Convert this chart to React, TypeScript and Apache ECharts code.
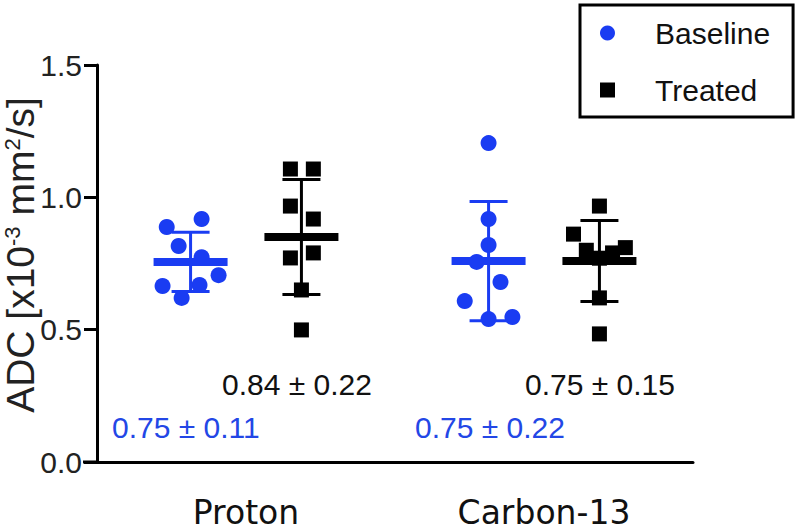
import React, { useEffect, useRef } from "react";
import * as echarts from "echarts";

const categories = ["Proton", "Carbon-13"];
const seriesNames = ["Baseline", "Treated"];
const yTicks = [0, 0.5, 1.0, 1.5];

// individual ADC values (x10^-3 mm^2/s)
const protonBaseline = [0.888, 0.918, 0.816, 0.774, 0.706, 0.665, 0.669, 0.62];
const protonTreated = [1.107, 1.107, 0.967, 0.918, 0.771, 0.79, 0.65, 0.499];
const carbonBaseline = [1.205, 0.918, 0.82, 0.756, 0.68, 0.608, 0.54, 0.548];
const carbonTreated = [0.967, 0.861, 0.8, 0.77, 0.79, 0.81, 0.62, 0.484];

// horizontal scatter of the points inside each group (category units)
const protonBaselineJitter = [-0.08, 0.037, -0.04, 0.037, 0.094, -0.094, 0.03, -0.03];
const protonTreatedJitter = [-0.037, 0.04, -0.037, 0.04, -0.037, 0.04, 0, 0];
const carbonBaselineJitter = [0, 0, 0, -0.04, 0.04, -0.08, 0, 0.08];
const carbonTreatedJitter = [0, -0.087, -0.044, 0, 0.044, 0.087, 0, 0];

// mean and SD drawn as bars
const baselineMean = [0.756, 0.759];
const baselineSD = [0.112, 0.225];
const treatedMean = [0.85, 0.759];
const treatedSD = [0.217, 0.153];

// printed summary labels
const baselineLabels = ["0.75 ± 0.11", "0.75 ± 0.22"];
const treatedLabels = ["0.84 ± 0.22", "0.75 ± 0.15"];

const BLUE = "#1a3cf2";
const BLUE_TEXT = "#2347e6";
const BLACK = "#000000";
const GROUP_OFFSET = 0.186;

function buildPoints(catIdx: number, offset: number, values: number[], jitter: number[]) {
  return values.map((v, i) => [catIdx + 0.5 + offset + jitter[i], v]);
}

function errorBarRenderer(color: string) {
  return (params: any, api: any) => {
    const x = api.value(0);
    const m = api.value(1);
    const s = api.value(2);
    const pm = api.coord([x, m]);
    const pt = api.coord([x, m + s]);
    const pb = api.coord([x, m - s]);
    const capHalf = 19;
    const barHalf = 37;
    return {
      type: "group",
      children: [
        { type: "line", shape: { x1: pm[0], y1: pt[1], x2: pm[0], y2: pb[1] }, style: { stroke: color, lineWidth: 3 } },
        { type: "line", shape: { x1: pm[0] - capHalf, y1: pt[1], x2: pm[0] + capHalf, y2: pt[1] }, style: { stroke: color, lineWidth: 3 } },
        { type: "line", shape: { x1: pm[0] - capHalf, y1: pb[1], x2: pm[0] + capHalf, y2: pb[1] }, style: { stroke: color, lineWidth: 3 } },
        { type: "line", shape: { x1: pm[0] - barHalf, y1: pm[1], x2: pm[0] + barHalf, y2: pm[1] }, style: { stroke: color, lineWidth: 8 } },
      ],
    };
  };
}

export default function App() {
  const ref = useRef<HTMLDivElement>(null);

  useEffect(() => {
    if (!ref.current) return;
    const chart = echarts.init(ref.current, undefined, { renderer: "svg" });

    const baselinePts = [
      ...buildPoints(0, -GROUP_OFFSET, protonBaseline, protonBaselineJitter),
      ...buildPoints(1, -GROUP_OFFSET, carbonBaseline, carbonBaselineJitter),
    ];
    const treatedPts = [
      ...buildPoints(0, GROUP_OFFSET, protonTreated, protonTreatedJitter),
      ...buildPoints(1, GROUP_OFFSET, carbonTreated, carbonTreatedJitter),
    ];
    const baselineBars = baselineMean.map((m, i) => [i + 0.5 - GROUP_OFFSET, m, baselineSD[i]]);
    const treatedBars = treatedMean.map((m, i) => [i + 0.5 + GROUP_OFFSET, m, treatedSD[i]]);

    const labelFont = '30px "Liberation Sans", Arial, sans-serif';
    const statTexts: any[] = [];
    const baseLeft = [112, 415];
    const treatLeft = [222, 525];
    baselineLabels.forEach((t, i) =>
      statTexts.push({
        type: "text",
        x: baseLeft[i],
        y: 427,
        style: { text: t, fill: BLUE_TEXT, font: labelFont, align: "left", verticalAlign: "middle" },
      })
    );
    treatedLabels.forEach((t, i) =>
      statTexts.push({
        type: "text",
        x: treatLeft[i],
        y: 384,
        style: { text: t, fill: "#111", font: labelFont, align: "left", verticalAlign: "middle" },
      })
    );

    chart.setOption({
      animation: false,
      backgroundColor: "#ffffff",
      grid: { left: 97, top: 65, right: 107, bottom: 70, containLabel: false, outerBoundsMode: "none" },
      legend: {
        orient: "vertical",
        left: 580,
        top: 5,
        padding: [11, 23, 10, 20],
        itemWidth: 15,
        itemHeight: 15,
        itemGap: 23,
        borderColor: "#000",
        borderWidth: 3,
        data: seriesNames,
        textStyle: {
          fontSize: 30,
          fontFamily: '"Liberation Sans", Arial, sans-serif',
          color: "#111",
          lineHeight: 34,
          padding: [0, 0, 0, 35],
        },
      },
      xAxis: [
        {
          type: "category",
          data: categories,
          boundaryGap: true,
          axisLine: { lineStyle: { color: "#000", width: 3 } },
          axisTick: { alignWithLabel: true, length: 13, lineStyle: { color: "#000", width: 3 } },
          axisLabel: {
            fontSize: 33,
            fontFamily: '"DejaVu Sans", Verdana, sans-serif',
            color: "#111",
            margin: 33,
            lineHeight: 34,
          },
          splitLine: { show: false },
        },
        { type: "value", min: 0, max: 2, show: false },
      ],
      yAxis: {
        type: "value",
        min: 0,
        max: 1.5,
        interval: 0.5,
        axisLine: { show: true, lineStyle: { color: "#000", width: 3 } },
        axisTick: { show: true, length: 13, lineStyle: { color: "#000", width: 3 } },
        axisLabel: {
          fontSize: 30,
          fontFamily: '"Liberation Sans", Arial, sans-serif',
          color: "#222",
          margin: 15,
          formatter: (v: number) => (yTicks.indexOf(v) >= 0 ? v.toFixed(1) : ""),
        },
        splitLine: { show: false },
        name: "{n|ADC [x10}{s|-3}{n| mm}{s|2}{n|/s]}",
        nameLocation: "middle",
        nameGap: 58,
        nameMoveOverlap: false,
        nameTextStyle: {
          padding: [0, 0, 0, 17],
          rich: {
            n: { fontSize: 39, fontFamily: '"Liberation Sans", Arial, sans-serif', color: "#222", lineHeight: 38 },
            s: {
              fontSize: 22,
              fontFamily: '"Liberation Sans", Arial, sans-serif',
              color: "#222",
              lineHeight: 20,
              verticalAlign: "top",
            },
          },
        },
      },
      graphic: [
        { type: "line", shape: { x1: 83, y1: 462, x2: 98, y2: 462 }, style: { stroke: "#000", lineWidth: 3 } },
        ...statTexts,
      ],
      series: [
        {
          name: "Baseline",
          type: "scatter",
          xAxisIndex: 1,
          symbol: "circle",
          symbolSize: 16,
          itemStyle: { color: BLUE, opacity: 1 },
          data: baselinePts,
          z: 2,
        },
        {
          name: "Treated",
          type: "scatter",
          xAxisIndex: 1,
          symbol: "rect",
          symbolSize: 15,
          itemStyle: { color: BLACK, opacity: 1 },
          data: treatedPts,
          z: 2,
        },
        {
          name: "Baseline mean ± SD",
          type: "custom",
          xAxisIndex: 1,
          renderItem: errorBarRenderer(BLUE),
          encode: { x: 0, y: 1 },
          data: baselineBars,
          z: 3,
        },
        {
          name: "Treated mean ± SD",
          type: "custom",
          xAxisIndex: 1,
          renderItem: errorBarRenderer(BLACK),
          encode: { x: 0, y: 1 },
          data: treatedBars,
          z: 3,
        },
      ],
    });

    return () => chart.dispose();
  }, []);

  return <div ref={ref} style={{ position: "fixed", left: 0, top: 0, width: 800, height: 532 }} />;
}
